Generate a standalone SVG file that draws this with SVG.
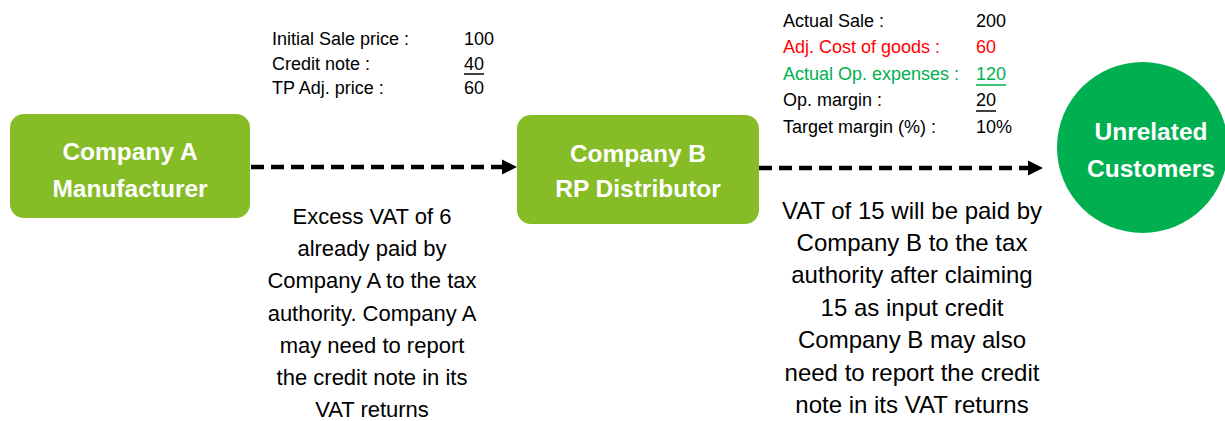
<svg xmlns="http://www.w3.org/2000/svg" width="1225" height="421" viewBox="0 0 1225 421">
<style>
.t{font-family:"Liberation Sans",Arial,sans-serif;font-size:18px;fill:#000}
.b{font-family:"Liberation Sans",Arial,sans-serif;font-size:22px;fill:#000;text-anchor:middle}
.b2{font-size:24px}
.n{font-family:"Liberation Sans",Arial,sans-serif;font-size:24.5px;font-weight:bold;fill:#fff;text-anchor:middle}
.box{fill:#86BC25}
.dash{stroke:#000;stroke-width:4.5;stroke-dasharray:13 7;fill:none}
</style>
<rect width="1225" height="421" fill="#fff"/>
<g id="connectors">
<line class="dash" x1="251" y1="167" x2="503" y2="167"/>
<polygon points="502,159.5 517,167 502,174.5" fill="#000"/>
<line class="dash" x1="759" y1="168" x2="1029" y2="168"/>
<polygon points="1028,160.5 1043,168 1028,175.5" fill="#000"/>
</g>
<g id="companyA">
<rect class="box" x="10" y="114" width="240" height="104" rx="14"/>
<text class="n" x="130" y="160">Company A</text>
<text class="n" x="130" y="197">Manufacturer</text>
</g>
<g id="companyB">
<rect class="box" x="517" y="115" width="242" height="109" rx="14"/>
<text class="n" x="638" y="162">Company B</text>
<text class="n" x="638" y="197">RP Distributor</text>
</g>
<g id="customers">
<circle cx="1142.5" cy="147.5" r="85.5" fill="#00B050"/>
<text class="n" x="1151" y="140">Unrelated</text>
<text class="n" x="1151" y="177">Customers</text>
</g>
<g id="tableA">
<text class="t" x="272" y="45">Initial Sale price :</text>
<text class="t" x="464" y="45">100</text>
<text class="t" x="272" y="70">Credit note :</text>
<text class="t" x="464" y="70">40</text>
<line x1="464" y1="74" x2="484" y2="74" stroke="#000" stroke-width="1.5"/>
<text class="t" x="272" y="94">TP Adj. price :</text>
<text class="t" x="464" y="94">60</text>
</g>
<g id="tableB">
<text class="t" x="783" y="27">Actual Sale :</text>
<text class="t" x="976" y="27">200</text>
<text class="t" x="783" y="53" style="fill:#FF0000">Adj. Cost of goods :</text>
<text class="t" x="976" y="53" style="fill:#FF0000">60</text>
<text class="t" x="783" y="80" style="fill:#00B050">Actual Op. expenses :</text>
<text class="t" x="976" y="80" style="fill:#00B050">120</text>
<line x1="976" y1="85" x2="1006" y2="85" stroke="#00B050" stroke-width="1.5"/>
<text class="t" x="783" y="106">Op. margin :</text>
<text class="t" x="976" y="106">20</text>
<line x1="976" y1="111" x2="996" y2="111" stroke="#000" stroke-width="1.5"/>
<text class="t" x="783" y="133">Target margin (%) :</text>
<text class="t" x="976" y="133">10%</text>
</g>
<g id="noteA">
<text class="b" x="372" y="224">Excess VAT of 6</text>
<text class="b" x="372" y="256">already paid by</text>
<text class="b" x="372" y="288">Company A to the tax</text>
<text class="b" x="372" y="321">authority. Company A</text>
<text class="b" x="372" y="353">may need to report</text>
<text class="b" x="372" y="385">the credit note in its</text>
<text class="b" x="372" y="417">VAT returns</text>
</g>
<g id="noteB">
<text class="b b2" x="912" y="219">VAT of 15 will be paid by</text>
<text class="b b2" x="912" y="251">Company B to the tax</text>
<text class="b b2" x="912" y="283">authority after claiming</text>
<text class="b b2" x="912" y="316">15 as input credit</text>
<text class="b b2" x="912" y="348">Company B may also</text>
<text class="b b2" x="912" y="381">need to report the credit</text>
<text class="b b2" x="912" y="413">note in its VAT returns</text>
</g>
</svg>
